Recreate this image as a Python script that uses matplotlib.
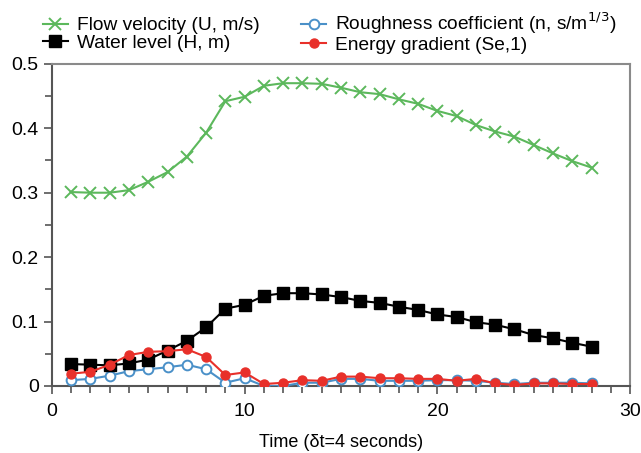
import matplotlib
matplotlib.use("Agg")
import matplotlib.pyplot as plt
from matplotlib.ticker import MultipleLocator

plt.rcParams['font.family'] = ['Liberation Sans', 'DejaVu Sans']

time = list(range(1, 29))
flow_velocity = [0.301, 0.300, 0.300, 0.304, 0.317, 0.332, 0.356, 0.393, 0.442, 0.449,
                 0.466, 0.470, 0.470, 0.469, 0.463, 0.456, 0.453, 0.445, 0.438, 0.427,
                 0.419, 0.405, 0.395, 0.387, 0.374, 0.361, 0.349, 0.339]
water_level = [0.034, 0.033, 0.032, 0.035, 0.041, 0.055, 0.070, 0.091, 0.120, 0.126,
               0.140, 0.144, 0.144, 0.142, 0.138, 0.132, 0.129, 0.123, 0.118, 0.111,
               0.107, 0.099, 0.095, 0.088, 0.079, 0.074, 0.067, 0.061]
roughness = [0.009, 0.011, 0.016, 0.023, 0.026, 0.029, 0.033, 0.026, 0.005, 0.012,
             0.000, 0.000, 0.005, 0.005, 0.011, 0.011, 0.008, 0.008, 0.008, 0.009,
             0.009, 0.008, 0.005, 0.003, 0.005, 0.005, 0.005, 0.004]
energy_gradient = [0.019, 0.022, 0.033, 0.048, 0.053, 0.054, 0.057, 0.045, 0.017, 0.021,
                   0.003, 0.005, 0.009, 0.008, 0.0145, 0.0145, 0.012, 0.012, 0.011, 0.011,
                   0.008, 0.011, 0.004, 0.0015, 0.004, 0.004, 0.003, 0.003]

fig = plt.figure(figsize=(6.41, 4.53), dpi=100)
ax = fig.add_axes([0.081, 0.148, 0.902, 0.711])

green = '#5cb85c'
blue = '#4a90c8'
red = '#e8302a'

ax.plot(time, flow_velocity, color=green, marker='x', markersize=8, markeredgewidth=1.4,
        linewidth=1.5, label='Flow velocity (U, m/s)', zorder=3)
ax.plot(time, water_level, color='black', marker='s', markersize=8,
        linewidth=1.5, label='Water level (H, m)', zorder=4)
ax.plot(time, roughness, color=blue, marker='o', markersize=7, markerfacecolor='white',
        markeredgewidth=1.4, linewidth=1.5, label='Roughness coefficient (n, s/m$^{1/3}$)', zorder=3)
ax.plot(time, energy_gradient, color=red, marker='o', markersize=6.5,
        linewidth=1.5, label='Energy gradient (Se,1)', zorder=5)

ax.set_xlim(0, 30)
ax.set_ylim(0, 0.5)
ax.xaxis.set_minor_locator(MultipleLocator(1))
ax.yaxis.set_minor_locator(MultipleLocator(0.05))
ax.set_yticks([0, 0.1, 0.2, 0.3, 0.4, 0.5])
ax.set_yticklabels(['0', '0.1', '0.2', '0.3', '0.4', '0.5'])
ax.set_xticks([0, 10, 20, 30])
ax.set_xticklabels(['0', '10', '20', '30'])

ax.tick_params(which='both', direction='out', colors='#555555', labelcolor='black',
               labelsize=14, width=1.2)
ax.tick_params(which='major', length=6)
ax.tick_params(which='minor', length=5)
ax.tick_params(axis='x', which='major', pad=6)

for s in ['left', 'bottom']:
    ax.spines[s].set_color('#555555')
    ax.spines[s].set_linewidth(1.5)
for s in ['top', 'right']:
    ax.spines[s].set_color('#8a8a8a')
    ax.spines[s].set_linewidth(1.5)

ax.set_xlabel('Time (δt=4 seconds)', fontsize=13, labelpad=10)

handles, labels = ax.get_legend_handles_labels()
fig.legend(handles, labels,
           loc='upper left', bbox_to_anchor=(43 / 641, 1 - 11 / 453), ncol=2, frameon=False,
           fontsize=13.8, handlelength=1.3, handletextpad=0.45, columnspacing=2.2,
           labelspacing=0.0, borderaxespad=0.0, borderpad=0.0)

fig.savefig('out.png', dpi=100)
